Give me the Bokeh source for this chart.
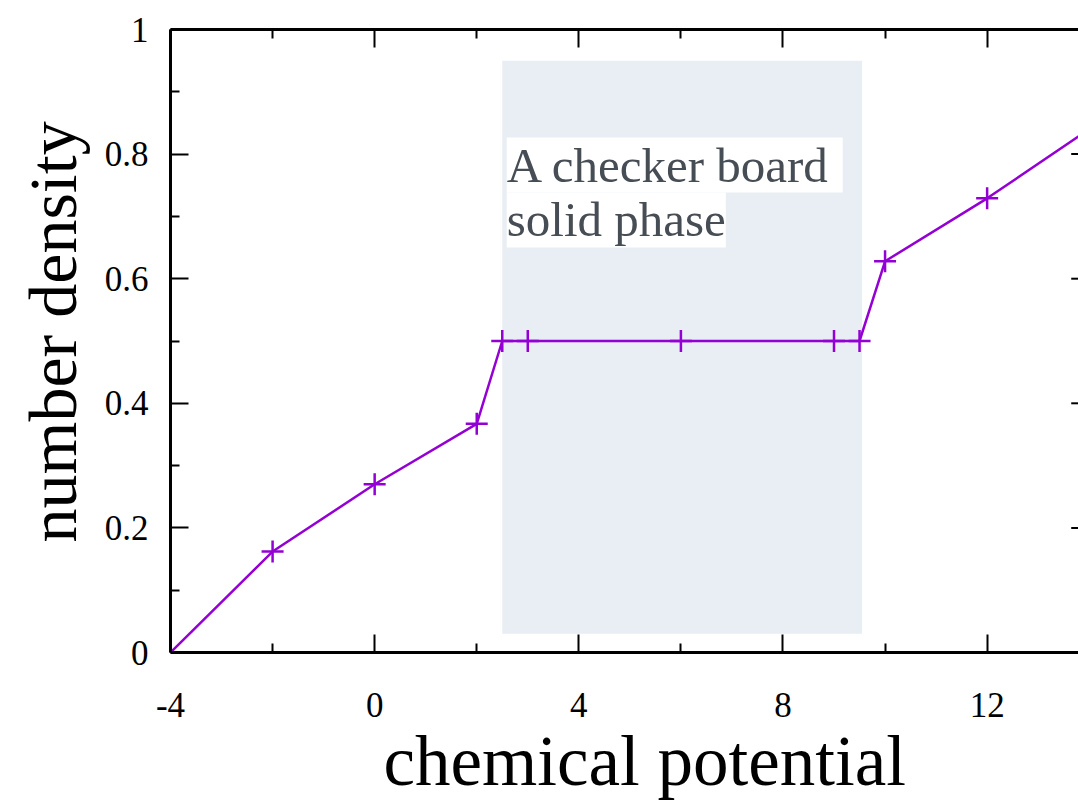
from bokeh.plotting import figure
from bokeh.models import FixedTicker, Label, LinearAxis, Range1d, Title
from bokeh.embed import file_html
from bokeh.resources import INLINE

# ---- data ----
mu = [-4, -2, 0, 2, 2.5, 3, 6, 9, 9.5, 10, 12, 14]
density = [0.0, 0.162, 0.27, 0.367, 0.5, 0.5, 0.5, 0.5, 0.5, 0.628, 0.729, 0.84]

x_major = [-4, 0, 4, 8, 12]
x_minor = [-2, 2, 6, 10, 14]
x_labels = ["-4", "0", "4", "8", "12"]
y_major = [0, 0.2, 0.4, 0.6, 0.8, 1.0]
y_minor = [0.1, 0.3, 0.5, 0.7, 0.9]
y_labels = ["0", "0.2", "0.4", "0.6", "0.8", "1"]

phase_mu = [2.5, 9.55]
phase_density = [0.03, 0.95]
phase_text = ["A checker board ", "solid phase"]

x_title = "chemical potential"
y_title = "number density"

# ---- layout ----
W, H = 1078, 803
LEFT, TOP, BOTTOM = 170, 29, 151
X_AXIS_END = 14
x_end = 13.79
FONT = "Liberation Serif"
PURPLE = "#9400d3"

p = figure(width=W, height=H, x_range=Range1d(-4, x_end), y_range=Range1d(0, 1),
           output_backend="svg", toolbar_location=None,
           min_border_left=LEFT, min_border_right=0, min_border_top=TOP,
           min_border_bottom=BOTTOM)
p.outline_line_color = None
p.xgrid.visible = False
p.ygrid.visible = False
p.background_fill_color = "white"
p.border_fill_color = "white"

def style_axis(ax, labels_visible=True):
    ax.axis_line_width = 3
    ax.axis_line_color = "black"
    ax.major_tick_in = 18
    ax.major_tick_out = 0
    ax.minor_tick_in = 9
    ax.minor_tick_out = 0
    ax.major_tick_line_width = 2
    ax.minor_tick_line_width = 2
    ax.major_tick_line_color = "black"
    ax.minor_tick_line_color = "black"
    if labels_visible:
        ax.major_label_text_font = FONT
        ax.major_label_text_font_size = "35px"
        ax.major_label_text_color = "black"
    else:
        ax.major_label_text_font_size = "0px"
        ax.major_label_standoff = 0

p.xaxis.ticker = FixedTicker(ticks=x_major, minor_ticks=x_minor)
p.xaxis.major_label_overrides = {v: s for v, s in zip(x_major, x_labels)}
style_axis(p.xaxis[0])
p.xaxis.major_label_standoff = 40

p.yaxis.ticker = FixedTicker(ticks=y_major, minor_ticks=y_minor)
p.yaxis.major_label_overrides = {v: s for v, s in zip(y_major, y_labels)}
style_axis(p.yaxis[0])
p.yaxis.major_label_standoff = 22

top_axis = LinearAxis(ticker=FixedTicker(ticks=x_major, minor_ticks=x_minor))
style_axis(top_axis, labels_visible=False)
p.add_layout(top_axis, "above")

# axis titles
p.add_layout(Title(text=x_title, align="left", offset=213, standoff=4,
                   vertical_align="top",
                   text_font=FONT, text_font_size="71px", text_font_style="normal",
                   text_color="black"), "below")
p.add_layout(Title(text=y_title, align="left", offset=110, standoff=22,
                   vertical_align="bottom",
                   text_font=FONT, text_font_size="68px", text_font_style="normal",
                   text_color="black"), "left")

# right-hand axis ticks (axis line lies just beyond the visible canvas)
px_per_x = (W - LEFT) / (x_end - (-4))
maj_len = 18 / px_per_x
min_len = 9 / px_per_x
p.segment(x0=[X_AXIS_END - maj_len] * len(y_major), x1=[X_AXIS_END] * len(y_major),
          y0=y_major, y1=y_major, line_color="black", line_width=2)
p.segment(x0=[X_AXIS_END - min_len] * len(y_minor), x1=[X_AXIS_END] * len(y_minor),
          y0=y_minor, y1=y_minor, line_color="black", line_width=2)

# shaded phase region
p.quad(left=[phase_mu[0]], right=[phase_mu[1]], bottom=[phase_density[0]],
       top=[phase_density[1]], fill_color="#e8eef3", line_color=None)

# phase annotation
p.add_layout(Label(x=2.587, y=0.8266, text=phase_text[0], text_align="left",
                   text_baseline="top", text_font=FONT, text_font_size="49px",
                   text_color="#474d54", background_fill_color="white"))
p.add_layout(Label(x=2.587, y=0.7384, text=phase_text[1], text_align="left",
                   text_baseline="top", text_font=FONT, text_font_size="49px",
                   text_color="#474d54", background_fill_color="white"))

# data
p.line(mu, density, line_color=PURPLE, line_width=2.5)
p.scatter(mu, density, marker="cross", size=22, line_color=PURPLE, line_width=2.5)

open("out.html", "w").write(file_html(p, INLINE))
